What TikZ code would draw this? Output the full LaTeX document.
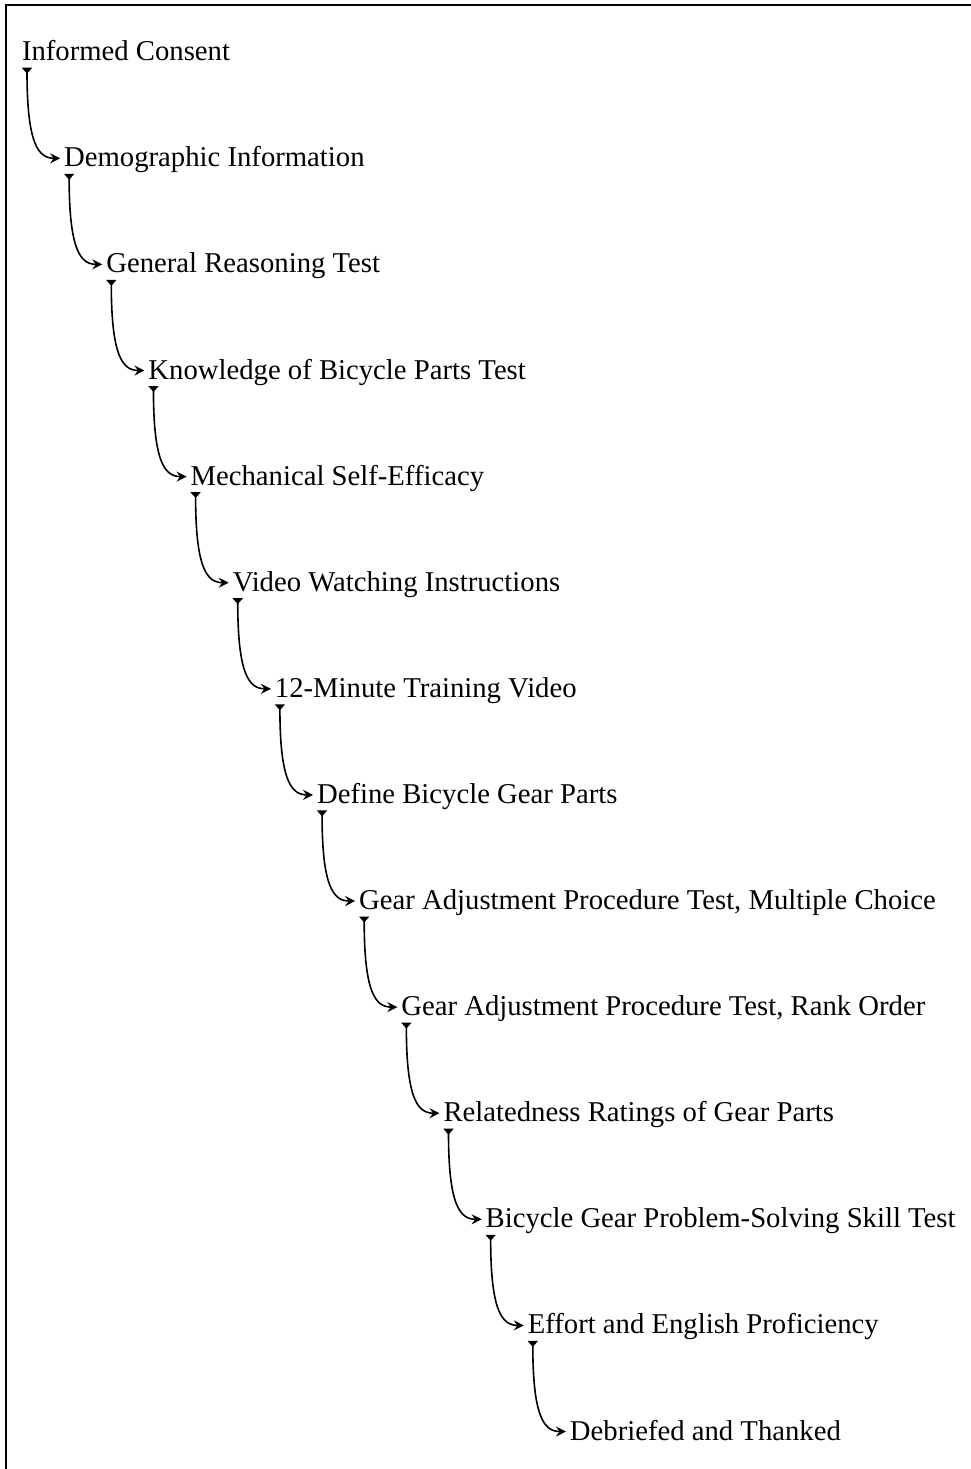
\documentclass[tikz,border=0pt]{standalone}
\usepackage{fontspec}
\setmainfont{Liberation Serif}
\usetikzlibrary{arrows.meta,calc}
\begin{document}
\begin{tikzpicture}[x=1pt,y=-1pt,
  stepnode/.style={anchor=base west,inner sep=0pt,outer sep=0pt,font=\fontsize{28.7}{34}\selectfont},
  flow/.style={line width=1.6pt,{Triangle[reversed,length=6pt,width=10pt]}-{Stealth[length=10pt,width=10pt,inset=3.5pt]}},
  frame/.style={line width=2pt}]
\useasboundingbox (0,0) rectangle (971,1469);
\draw[frame] (6,1469) -- (6,5.3) -- (971,5.3);
\node[stepnode] (n0) at (22,60.7) {Informed Consent};
\node[stepnode] (n1) at (64.15,166.8) {Demographic Information};
\node[stepnode] (n2) at (106.3,272.9) {General Reasoning Test};
\node[stepnode] (n3) at (148.45,379.0) {Knowledge of Bicycle Parts Test};
\node[stepnode] (n4) at (190.6,485.1) {Mechanical Self-Efficacy};
\node[stepnode] (n5) at (232.75,591.2) {Video Watching Instructions};
\node[stepnode] (n6) at (274.9,697.3) {12-Minute Training Video};
\node[stepnode] (n7) at (317.05,803.4) {Define Bicycle Gear Parts};
\node[stepnode] (n8) at (359.2,909.5) {Gear Adjustment Procedure Test, Multiple Choice};
\node[stepnode] (n9) at (401.35,1015.6) {Gear Adjustment Procedure Test, Rank Order};
\node[stepnode] (n10) at (443.5,1121.7) {Relatedness Ratings of Gear Parts};
\node[stepnode] (n11) at (485.65,1227.8) {Bicycle Gear Problem-Solving Skill Test};
\node[stepnode] (n12) at (527.8,1333.9) {Effort and English Proficiency};
\node[stepnode] (n13) at (569.95,1440.0) {Debriefed and Thanked};
\foreach \a/\b in {n0/n1,n1/n2,n2/n3,n3/n4,n4/n5,n5/n6,n6/n7,n7/n8,n8/n9,n9/n10,n10/n11,n11/n12,n12/n13}{
  \draw[flow] ($(\a.base west)+(5,7)$) .. controls +(0,76) and +(-22,0) .. ($(\b.base west)+(-4,-8.5)$);
}
\end{tikzpicture}
\end{document}
